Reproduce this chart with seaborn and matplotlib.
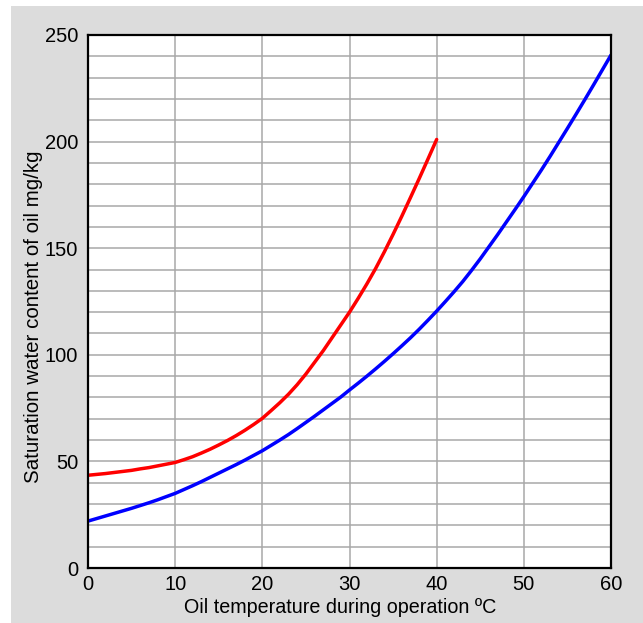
import matplotlib
matplotlib.use("Agg")
import matplotlib.pyplot as plt
import seaborn as sns
import pandas as pd
from matplotlib.patches import Rectangle

# Saturation water content (mg/kg) versus oil temperature (°C), one reading per degree
temp_red = list(range(0, 41))
water_red = [43.5, 43.9, 44.3, 44.8, 45.3, 45.8, 46.5, 47.1, 47.9, 48.7,
             49.5, 50.8, 52.2, 53.9, 55.7, 57.7, 59.8, 62.1, 64.6, 67.3,
             70.2, 73.8, 77.5, 81.5, 86.0, 91.0, 96.5, 102.0, 108.0, 114.0,
             120.0, 126.5, 133.3, 140.5, 148.3, 156.5, 165.0, 173.8, 182.7, 191.8,
             201.0]

temp_blue = list(range(0, 61))
water_blue = [22.0, 23.2, 24.4, 25.6, 26.8, 28.0, 29.3, 30.6, 32.0, 33.5,
              35.0, 36.8, 38.6, 40.5, 42.5, 44.5, 46.5, 48.5, 50.6, 52.8,
              55.0, 57.5, 60.0, 62.6, 65.4, 68.3, 71.2, 74.2, 77.2, 80.2,
              83.5, 86.7, 90.0, 93.4, 96.9, 100.5, 104.2, 108.0, 112.0, 116.2,
              120.5, 125.0, 129.6, 134.4, 139.6, 145.0, 150.7, 156.4, 162.3, 168.2,
              174.2, 180.4, 186.6, 193.0, 199.6, 206.2, 212.9, 219.7, 226.6, 233.6,
              240.6]

x_ticks = [0, 10, 20, 30, 40, 50, 60]
y_ticks = [0, 50, 100, 150, 200, 250]

sns.set_theme(style="white")
plt.rcParams["font.family"] = ["Liberation Sans", "DejaVu Sans"]

W, H = 643, 623
fig = plt.figure(figsize=(W / 100, H / 100), dpi=100)
fig.patch.set_facecolor("white")
fig.add_artist(Rectangle((11 / W, 0), 1 - 11 / W, (H - 6) / H,
                         transform=fig.transFigure, facecolor="#dcdcdc",
                         edgecolor="none", zorder=0))

ax = fig.add_axes([88 / W, (H - 568) / H, 523 / W, 533 / H])
ax.set_facecolor("white")

df_red = pd.DataFrame({"temp": temp_red, "water": water_red})
df_blue = pd.DataFrame({"temp": temp_blue, "water": water_blue})
sns.lineplot(data=df_red, x="temp", y="water", ax=ax, color="#ff0000", lw=2.5,
             sort=False, zorder=3)
sns.lineplot(data=df_blue, x="temp", y="water", ax=ax, color="#0000ff", lw=2.5,
             sort=False, zorder=3)

ax.set_xlim(0, 60)
ax.set_ylim(0, 250)
ax.set_xticks(x_ticks)
ax.set_yticks(y_ticks)
ax.set_yticks(range(0, 251, 10), minor=True)
ax.grid(True, which="major", color="#a8a8a8", lw=1.1)
ax.grid(True, which="minor", axis="y", color="#a8a8a8", lw=1.1)
ax.set_axisbelow(True)

for s in ax.spines.values():
    s.set_color("black")
    s.set_linewidth(1.6)
    s.set_zorder(4)

ax.tick_params(axis="both", which="both", length=0, labelsize=14.5, colors="black")
ax.tick_params(axis="x", pad=5)
ax.tick_params(axis="y", pad=7)

ax.set_xlabel("Oil temperature during operation ºC", fontsize=14.2, color="black")
ax.set_ylabel("Saturation water content of oil mg/kg", fontsize=14.8, color="black")
ax.xaxis.label.set_va("center")
ax.yaxis.label.set_va("center")
ax.xaxis.set_label_coords(0.482, -0.075)
ax.yaxis.set_label_coords(-0.105, 0.471)

fig.savefig("out.png", dpi=100)
